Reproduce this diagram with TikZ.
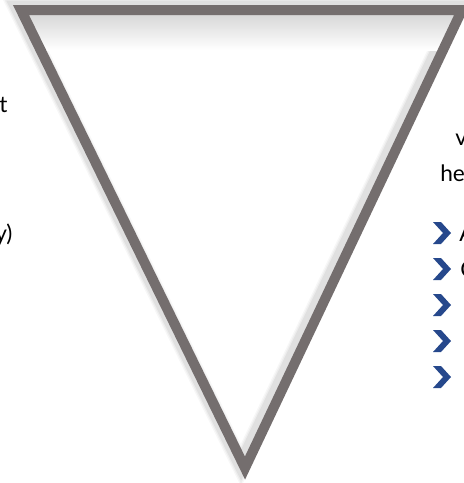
\documentclass[tikz,border=0pt]{standalone}
\usepackage{fontspec}
\setmainfont{Lato}
\definecolor{triGrey}{RGB}{116,110,110}
\definecolor{chevBlue}{RGB}{38,72,140}
\begin{document}
\begin{tikzpicture}[x=0.75pt,y=-0.75pt,
  tri/.style={draw=triGrey,line width=7.5pt,line join=miter},
  chev/.style={fill=chevBlue},
  lbl/.style={font=\fontsize{17}{20}\selectfont,anchor=base west,inner sep=0pt,text=black}]
\useasboundingbox (0,0) rectangle (464,483);
\clip (0,0) rectangle (464,483);
\fill[white] (0,0) rectangle (464,483);
\coordinate (A) at (21,10);
\coordinate (B) at (462,10);
\coordinate (C) at (245,468);
% soft shadow
\foreach \w/\o in {14/0.03,12/0.04,10/0.05}{
  \draw[draw=black,opacity=\o,line width=\w pt,line join=miter] ([xshift=-3,yshift=2]A)--([xshift=-3,yshift=2]B)--([xshift=-3,yshift=2]C)--cycle;
}
\begin{scope}
  \clip (A)--(B)--(C)--cycle;
  \shade[top color=gray!35,bottom color=white] (0,10) rectangle (464,50);
\end{scope}
\draw[tri] (A)--(B)--(C)--cycle;
% left texts
\node[lbl] (t1) at (-1,112) {t};
\node[lbl] (t2) at (-5,241) {y)};
% right texts
\node[lbl] (r1) at (455,145) {v};
\node[lbl] (r2) at (440,181) {he};
% chevrons
\foreach \cy in {233,269,305,341,377}{
  \fill[chev] (433,\cy-11) -- (441,\cy-11) -- (451,\cy) -- (441,\cy+11) -- (433,\cy+11) -- (443,\cy) -- cycle;
}
\node[lbl] (b1) at (459,241) {A};
\node[lbl] (b2) at (460,277) {C};
\end{tikzpicture}
\end{document}
